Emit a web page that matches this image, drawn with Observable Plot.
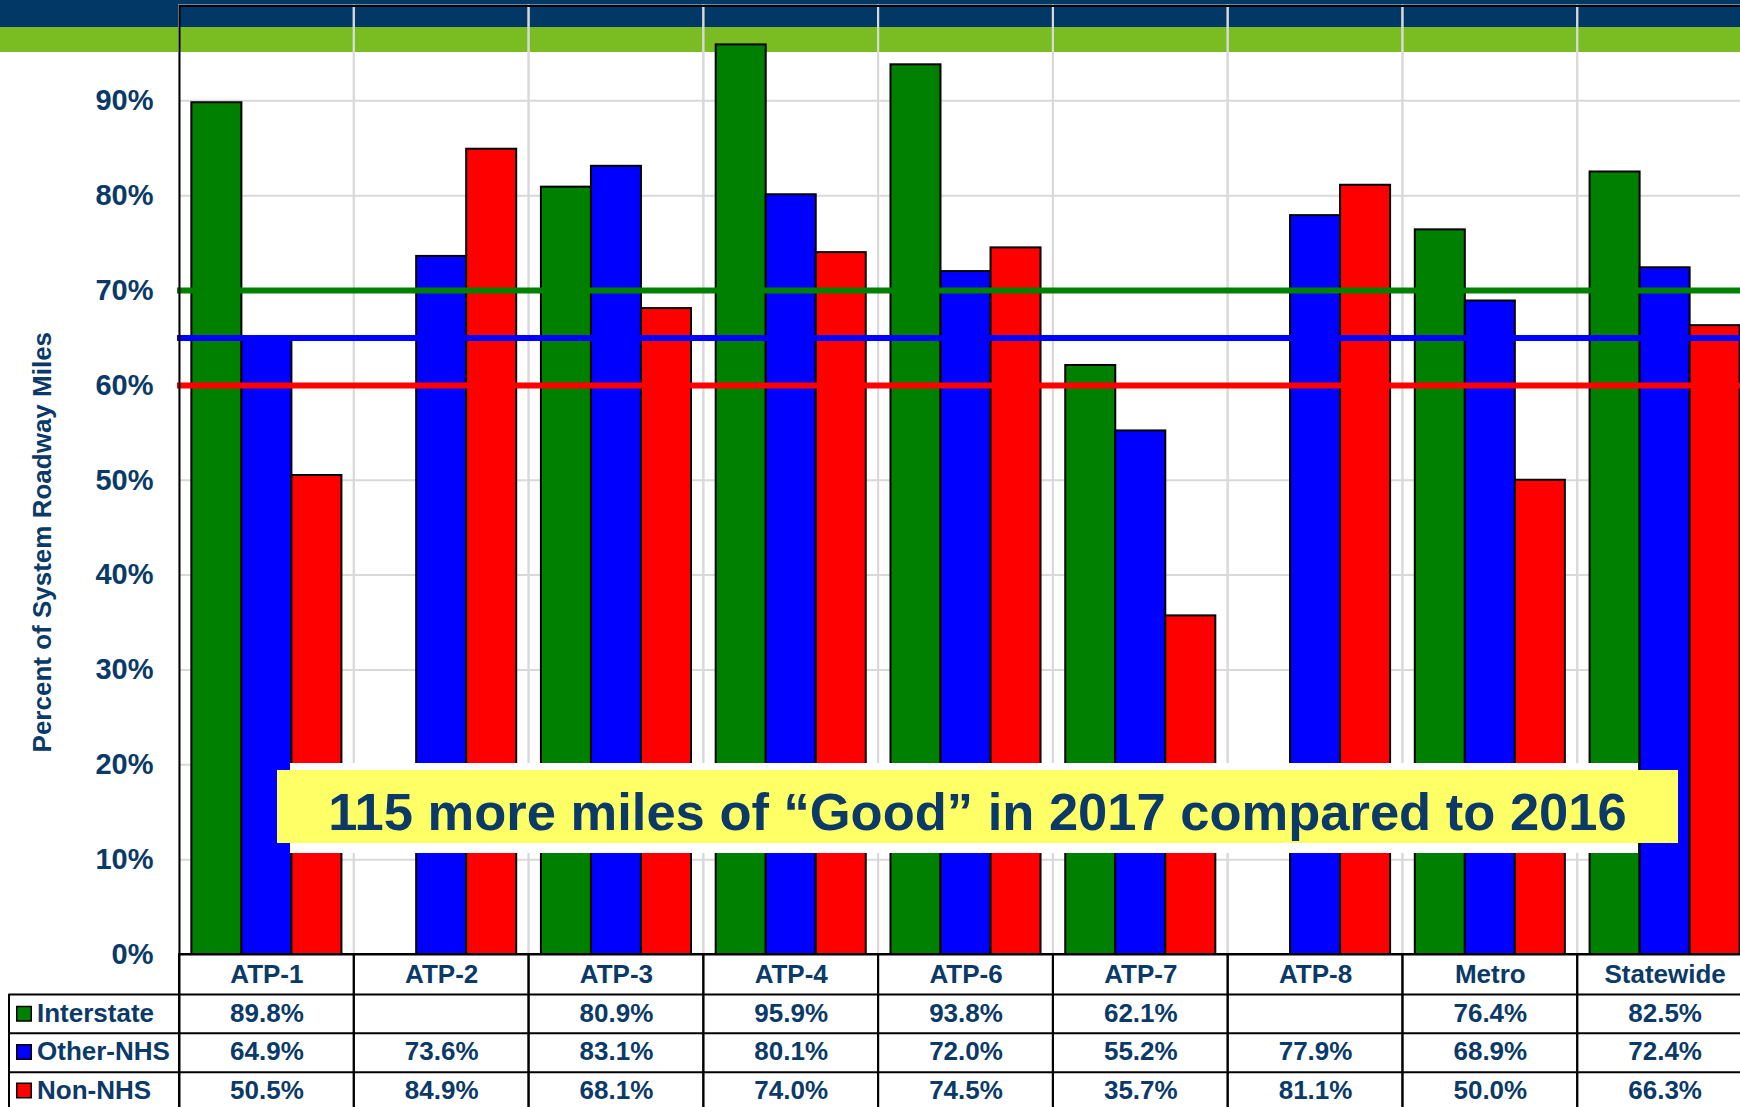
<!DOCTYPE html>
<html>
<head>
<meta charset="utf-8">
<script src="https://cdn.jsdelivr.net/npm/d3@7"></script>
<script src="https://cdn.jsdelivr.net/npm/@observablehq/plot@0.6"></script>
<style>
  html, body { margin: 0; padding: 0; background: #fff; overflow: hidden; }
  #page { position: relative; width: 1740px; height: 1107px; overflow: hidden;
          font-family: "Liberation Sans", Arial, sans-serif; }
  .band { position: absolute; left: 0; width: 100%; }
  #navy { top: 0; height: 27px; background: #013865; }
  #green { top: 27px; height: 25px; background: #79bd22; }
  #chart { position: absolute; left: 0; top: 0; }
  #whiteband { position: absolute; left: 290px; top: 763px; width: 1348px; height: 90px; background: #fff; }
  #note { position: absolute; left: 277px; top: 770px; width: 1401px; height: 68px; padding-top: 5px;
          background: #ffff66; color: #0b3a68; font-weight: bold; font-size: 52.5px;
          font-family: "Liberation Sans", Arial, sans-serif;
          line-height: 73px; text-align: center; white-space: nowrap; }
</style>
</head>
<body>
<div id="page">
  <div class="band" id="navy"></div>
  <div class="band" id="green"></div>
  <div id="chart"></div>
  <div id="whiteband"></div>
  <div id="note">115 more miles of “Good” in 2017 compared to 2016</div>
</div>
<script>
// ---- data ----
const categories = ["ATP-1", "ATP-2", "ATP-3", "ATP-4", "ATP-6", "ATP-7", "ATP-8", "Metro", "Statewide"];
const interstate = [89.8, null, 80.9, 95.9, 93.8, 62.1, null, 76.4, 82.5];
const otherNHS   = [64.9, 73.6, 83.1, 80.1, 72.0, 55.2, 77.9, 68.9, 72.4];
const nonNHS     = [50.5, 84.9, 68.1, 74.0, 74.5, 35.7, 81.1, 50.0, 66.3];
const seriesNames = ["Interstate", "Other-NHS", "Non-NHS"];
const seriesColors = ["#008000", "#0000ff", "#ff0000"];
const targets = [70, 65, 60];            // target line per series
const yTicks = [0, 10, 20, 30, 40, 50, 60, 70, 80, 90];
const yTitle = "Percent of System Roadway Miles";

// ---- layout / style ----
const W = 1752, H = 1107, ML = 179, MT = 5.5, Y0 = 954;
const navy = "#0b3a68";
const font = "'Liberation Sans', Arial, sans-serif";
const grid = "#d9d9d9";
const bw = (W - ML) / categories.length;
const barW = bw * 0.2862;
const pad = (bw - 3 * barW) / 2;
const rowLines = [40, 78.7, 117.7];      // table row borders below the zero line
const rowCenters = [59.3, 97.5, 136];    // table row text centers below the zero line
const tableLeft = 8.5;

const seriesValues = [interstate, otherNHS, nonNHS];
const rows = seriesNames.flatMap((s, k) =>
  categories.map((c, i) => ({category: c, series: s, k, value: seriesValues[k][i]})));

const fmt = d3.format(".1f");
const marks = [];

// column gridlines (band boundaries)
marks.push(Plot.barY(categories, {x: d => d, y1: 0, y2: 100, fill: "none", stroke: grid, strokeWidth: 2}));
// horizontal gridlines
marks.push(Plot.ruleY(yTicks.filter(t => t > 0), {stroke: grid, strokeWidth: 2}));

// bars
seriesNames.forEach((s, k) => {
  marks.push(Plot.barY(rows.filter(d => d.k === k && d.value != null), {
    x: "category", y: "value",
    fill: seriesColors[k], stroke: "black", strokeWidth: 2,
    insetLeft: pad + k * barW, insetRight: pad + (2 - k) * barW
  }));
});

// target lines
targets.forEach((t, k) => {
  marks.push(Plot.ruleY([t], {stroke: seriesColors[k], strokeWidth: 6, insetLeft: -2}));
});

// zero line and frame
marks.push(Plot.ruleY([0], {stroke: "black", strokeWidth: 2}));
marks.push(Plot.frame({stroke: "black", strokeWidth: 2, insetBottom: -10}));

// table column dividers
marks.push(Plot.barY(categories, {x: d => d, y1: 0, y2: 0, insetBottom: -(H - Y0 + 10),
  fill: "none", stroke: "black", strokeWidth: 2}));
// table row lines
rowLines.forEach(dy => {
  marks.push(Plot.ruleY([0], {dy, insetLeft: -(ML - tableLeft), stroke: "black", strokeWidth: 2}));
});
// table left border
marks.push(Plot.ruleX([0], {x: null, y1: 0, insetTop: rowLines[0], insetBottom: -(H - Y0 + 10),
  dx: tableLeft - (ML + W) / 2, stroke: "black", strokeWidth: 2}));

// category labels
marks.push(Plot.text(categories, {x: d => d, y: () => 0, dy: 20, text: d => d,
  fontSize: 26, fontWeight: "bold", fill: navy}));

// table values + legend
seriesNames.forEach((s, k) => {
  marks.push(Plot.text(rows.filter(d => d.k === k), {
    x: "category", y: () => 0, dy: rowCenters[k],
    text: d => d.value == null ? "" : fmt(d.value) + "%",
    fontSize: 26, fontWeight: "bold", fill: navy
  }));
  marks.push(Plot.dot([s], {y: () => 0, frameAnchor: "left", dx: 23.5 - ML, dy: rowCenters[k],
    symbol: "square", r: 8.2, fill: seriesColors[k], stroke: "black", strokeWidth: 1.5}));
  marks.push(Plot.text([s], {y: () => 0, frameAnchor: "left", textAnchor: "start",
    dx: 36.5 - ML, dy: rowCenters[k], text: d => d,
    fontSize: 26, fontWeight: "bold", fill: navy}));
});

// y axis
marks.push(Plot.axisY(yTicks, {tickSize: 0, tickPadding: 26, tickFormat: d => d + "%",
  fontSize: 29, fontWeight: "bold", color: navy, label: null}));
marks.push(Plot.text([yTitle], {frameAnchor: "left", rotate: -90, textAnchor: "middle",
  dx: 42.5 - ML, dy: 541.7 - (MT + H) / 2, text: d => d,
  fontSize: 26, fontWeight: "bold", fill: navy}));

const chart = Plot.plot({
  width: W, height: H,
  marginLeft: ML, marginRight: 0, marginTop: MT, marginBottom: 0,
  x: {domain: categories, padding: 0, round: false, axis: null},
  y: {domain: [0, 100], range: [Y0, MT]},
  style: {background: "transparent", maxWidth: "none", fontFamily: font, overflow: "visible"},
  marks
});
document.getElementById("chart").appendChild(chart);
</script>
</body>
</html>
